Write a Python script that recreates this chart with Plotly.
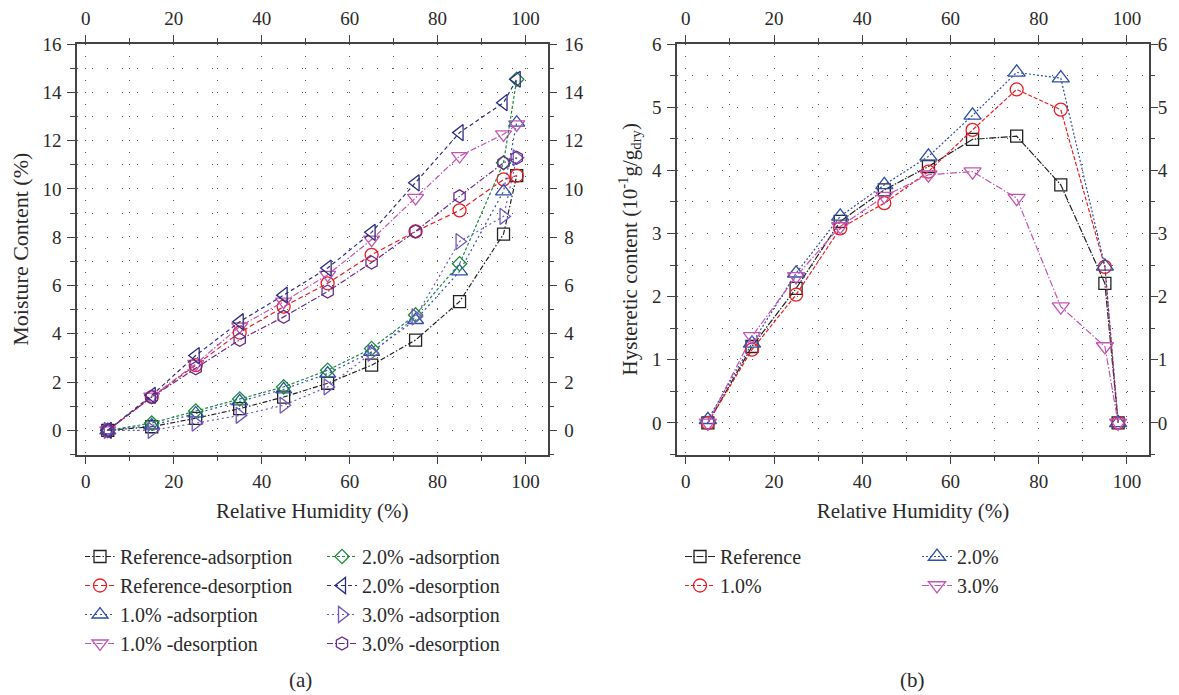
import plotly.graph_objects as go

# ---------------- data ----------------
rh = [5, 15, 25, 35, 45, 55, 65, 75, 85, 95, 98]

ref_ads = [0, 0.15, 0.5, 0.9, 1.38, 1.95, 2.7, 3.74, 5.33, 8.13, 10.55]
ref_des = [0, 1.38, 2.7, 4.05, 5.12, 6.09, 7.27, 8.24, 9.11, 10.39, 10.55]
p10_ads = [0, 0.2, 0.7, 1.2, 1.7, 2.35, 3.25, 4.57, 6.58, 9.9, 12.74]
p10_des = [0, 1.4, 2.75, 4.3, 5.33, 6.44, 7.9, 9.63, 11.36, 12.26, 12.67]
p20_ads = [0, 0.3, 0.8, 1.3, 1.8, 2.49, 3.39, 4.78, 6.9, 11.08, 14.54]
p20_des = [0, 1.45, 3.1, 4.5, 5.6, 6.72, 8.2, 10.25, 12.33, 13.57, 14.54]
p30_ads = [0, 0.0, 0.3, 0.62, 1.04, 1.8, 3.2, 4.7, 7.82, 8.86, 11.29]
p30_des = [0, 1.38, 2.57, 3.75, 4.7, 5.75, 6.95, 8.24, 9.69, 11.08, 11.29]

hys_ref = [0, 1.21, 2.13, 3.19, 3.69, 4.06, 4.49, 4.54, 3.77, 2.21, 0]
hys_10 = [0, 1.16, 2.03, 3.08, 3.48, 3.98, 4.64, 5.28, 4.96, 2.47, 0]
hys_20 = [0.05, 1.26, 2.37, 3.27, 3.77, 4.22, 4.87, 5.55, 5.46, 2.48, 0]
hys_30 = [0, 1.37, 2.32, 3.11, 3.59, 3.93, 3.98, 3.56, 1.84, 1.21, 0]

x_ticks = [0, 20, 40, 60, 80, 100]

# ---------------- style ----------------
FONT = "Liberation Serif"
TXT = "#2a2a2a"
AX = "#444444"
GRID = "#555555"

BLACK = "#222222"
RED = "#ec1c24"
BLUE = "#2f4fa8"
PINK = "#c355b5"
GREEN = "#1e8a3e"
NAVY = "#2c2c82"
LPURP = "#7158c0"
DPURP = "#6a2b8c"

# the page body has an 8px margin, so the figure is drawn 8px right/down
OFF = 8
W, H = 1179 - OFF, 695 - OFF
def px_x(v):
    return (v - OFF) / W
def px_y(v):
    return 1 - (v - OFF) / H

fig = go.Figure()

left_series = [
    ("Reference-adsorption", ref_ads, BLACK, "square-open", 12, "5px,2px,1.5px,2px", "legend"),
    ("Reference-desorption", ref_des, RED, "circle-open", 13, "5px,3px", "legend"),
    ("1.0% -adsorption", p10_ads, BLUE, "triangle-up-open", 14, "2px,3px", "legend"),
    ("1.0% -desorption", p10_des, PINK, "triangle-down-open", 14, "6px,2px,1.5px,2px", "legend"),
    ("2.0% -adsorption", p20_ads, GREEN, "diamond-open", 11, "3px,2px", "legend2"),
    ("2.0% -desorption", p20_des, NAVY, "triangle-left-open", 14, "4px,3px", "legend2"),
    ("3.0% -adsorption", p30_ads, LPURP, "triangle-right-open", 14, "2px,3px", "legend2"),
    ("3.0% -desorption", p30_des, DPURP, "hexagon-open", 13, "6px,2px,1.5px,2px", "legend2"),
]
for name, ys, col, sym, sz, dash, lg in left_series:
    fig.add_trace(go.Scatter(
        x=rh, y=ys, name=name, mode="lines+markers",
        line=dict(color=col, width=1.2, dash=dash),
        marker=dict(symbol=sym, size=sz, color=col, line=dict(color=col, width=1.3)),
        xaxis="x", yaxis="y", legend=lg,
    ))

right_series = [
    ("Reference", hys_ref, BLACK, "square-open", 12, "7px,1.5px,1.5px,1.5px", "legend3"),
    ("1.0%", hys_10, RED, "circle-open", 13, "4px,2px", "legend3"),
    ("2.0%", hys_20, BLUE, "triangle-up-open", 15, "2px,2px", "legend4"),
    ("3.0%", hys_30, PINK, "triangle-down-open", 15, "7px,2px,1.5px,2px", "legend4"),
]
for name, ys, col, sym, sz, dash, lg in right_series:
    fig.add_trace(go.Scatter(
        x=rh, y=ys, name=name, mode="lines+markers",
        line=dict(color=col, width=1.2, dash=dash),
        marker=dict(symbol=sym, size=sz, color=col, line=dict(color=col, width=1.3)),
        xaxis="x2", yaxis="y2", legend=lg,
    ))

# invisible traces to activate the mirrored (top/right) label axes
for xa, ya, ys in [("x3", "y", ref_ads), ("x", "y3", ref_ads), ("x4", "y2", hys_ref), ("x2", "y4", hys_ref)]:
    fig.add_trace(go.Scatter(x=rh, y=ys, mode="markers", marker=dict(opacity=0),
                             xaxis=xa, yaxis=ya, showlegend=False, hoverinfo="skip"))

tickfont = dict(family=FONT, size=19, color=TXT)

XR = [-2, 105]
YR1 = [-1, 16]
YR2 = [-0.5, 6]
XD1 = [px_x(77), px_x(547.5)]
XD2 = [px_x(677), px_x(1149)]
YD = [px_y(454.5), px_y(44)]

def xaxis_main(domain, anchor, title):
    return dict(
        domain=domain, range=XR, anchor=anchor, tickmode="array", tickvals=x_ticks,
        ticks="outside", ticklen=8, tickwidth=1.3, tickcolor=AX,
        showline=True, linecolor=AX, linewidth=1.5, mirror=True,
        showgrid=True, gridcolor=GRID, gridwidth=1.2, griddash="1px,11px",
        minor=dict(dtick=10, tick0=0, ticks="outside", ticklen=5, tickcolor=AX,
                   showgrid=True, gridcolor=GRID, gridwidth=1.2, griddash="1px,11px"),
        zeroline=False, tickfont=tickfont, ticklabelstandoff=1,
        title=dict(text=title, font=dict(family=FONT, size=21, color=TXT), standoff=12),
        automargin=False,
    )

def xaxis_top(over, anchor):
    return dict(
        overlaying=over, side="top", anchor=anchor, range=XR, tickmode="array", tickvals=x_ticks,
        ticks="outside", ticklen=8, tickwidth=1.3, tickcolor=AX, showline=False,
        showgrid=False, zeroline=False, tickfont=tickfont, ticklabelstandoff=2,
        minor=dict(dtick=10, tick0=0, ticks="outside", ticklen=5, tickcolor=AX, showgrid=False),
        automargin=False,
    )

def yaxis_main(domain, anchor, rng, dt, mdt, title, tsize, standoff):
    return dict(
        domain=domain, range=rng, anchor=anchor, dtick=dt, tick0=0,
        ticks="outside", ticklen=8, tickwidth=1.3, tickcolor=AX,
        showline=True, linecolor=AX, linewidth=1.5, mirror=True,
        showgrid=True, gridcolor=GRID, gridwidth=1.2, griddash="1px,14px",
        minor=dict(dtick=mdt, tick0=0, ticks="outside", ticklen=5, tickcolor=AX,
                   showgrid=True, gridcolor=GRID, gridwidth=1.2, griddash="1px,14px"),
        zeroline=False, tickfont=tickfont, ticklabelstandoff=2,
        title=dict(text=title, font=dict(family=FONT, size=tsize, color=TXT), standoff=standoff),
        automargin=False,
    )

def yaxis_right(over, anchor, rng, dt, mdt, lso):
    return dict(
        overlaying=over, side="right", anchor=anchor, range=rng, dtick=dt, tick0=0,
        ticks="outside", ticklen=8, tickwidth=1.3, tickcolor=AX, showline=False,
        showgrid=False, zeroline=False, tickfont=tickfont, ticklabelstandoff=lso,
        minor=dict(dtick=mdt, tick0=0, ticks="outside", ticklen=5, tickcolor=AX, showgrid=False),
        automargin=False,
    )

legend_common = dict(
    orientation="v", bgcolor="rgba(0,0,0,0)", borderwidth=0,
    font=dict(family=FONT, size=20, color=TXT), xanchor="left", yanchor="top",
    itemsizing="trace", tracegroupgap=0,
)

fig.update_layout(
    width=W, height=H, autosize=False, template="none",
    paper_bgcolor="white", plot_bgcolor="white",
    margin=dict(l=0, r=0, t=0, b=0, pad=0),
    font=dict(family=FONT, color=TXT),
    xaxis=xaxis_main(XD1, "y", "Relative Humidity (%)"),
    yaxis=yaxis_main(YD, "x", YR1, 2, 1, "Moisture Content (%)", 22, 11),
    xaxis2=xaxis_main(XD2, "y2", "Relative Humidity (%)"),
    yaxis2=yaxis_main(YD, "x2", YR2, 1, 0.5,
                      "Hysteretic content (10<sup>-1</sup>g/g<sub>dry</sub>)", 21, 9),
    xaxis3=xaxis_top("x", "y"),
    yaxis3=yaxis_right("y", "x", YR1, 2, 1, 4),
    xaxis4=xaxis_top("x2", "y2"),
    yaxis4=yaxis_right("y2", "x2", YR2, 1, 0.5, -4),
    legend=dict(legend_common, x=px_x(80), y=px_y(537)),
    legend2=dict(legend_common, x=px_x(322), y=px_y(537)),
    legend3=dict(legend_common, x=px_x(680), y=px_y(537)),
    legend4=dict(legend_common, x=px_x(917), y=px_y(537)),
    annotations=[
        dict(text="(a)", x=px_x(300), y=px_y(680), xref="paper", yref="paper",
             xanchor="center", yanchor="middle",
             showarrow=False, font=dict(family=FONT, size=21, color=TXT)),
        dict(text="(b)", x=px_x(912), y=px_y(680), xref="paper", yref="paper",
             xanchor="center", yanchor="middle",
             showarrow=False, font=dict(family=FONT, size=21, color=TXT)),
    ],
    showlegend=True,
)

fig.write_html("out.html")
